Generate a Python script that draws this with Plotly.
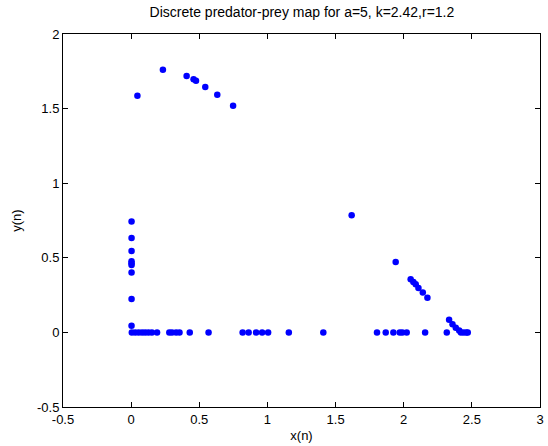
import plotly.graph_objects as go

# Upper arc
x_top = [0.046, 0.233, 0.407, 0.458, 0.476, 0.544, 0.632, 0.748]
y_top = [1.586, 1.760, 1.718, 1.696, 1.687, 1.644, 1.593, 1.519]

# Column near x = 0
x_col = [0.003, 0.003, 0.003, 0.003, 0.003, 0.003, 0.003, 0.003, 0.003]
y_col = [0.743, 0.633, 0.546, 0.477, 0.463, 0.452, 0.401, 0.224, 0.045]

# Row at y = 0
x_row = [0.005, 0.03, 0.055, 0.08, 0.103, 0.127, 0.152, 0.19, 0.28, 0.30, 0.33,
         0.355, 0.43, 0.568, 0.818, 0.862, 0.917, 0.961, 1.005, 1.157, 1.41,
         1.804, 1.868, 1.924, 1.971, 1.99, 2.022, 2.157, 2.316, 2.42, 2.44,
         2.46, 2.47]
y_row = [0.0] * len(x_row)

# Diagonal branch on the right
x_diag = [1.618, 1.941, 2.051, 2.071, 2.088, 2.108, 2.140, 2.174, 2.333, 2.358, 2.382, 2.407]
y_diag = [0.785, 0.472, 0.356, 0.338, 0.322, 0.297, 0.268, 0.233, 0.085, 0.054, 0.031, 0.012]

x_all = x_top + x_col + x_row + x_diag
y_all = y_top + y_col + y_row + y_diag

x_ticks = [-0.5, 0, 0.5, 1, 1.5, 2, 2.5, 3]
x_tick_labels = ["-0.5", "0", "0.5", "1", "1.5", "2", "2.5", "3"]
y_ticks = [-0.5, 0, 0.5, 1, 1.5, 2]
y_tick_labels = ["-0.5", "0", "0.5", "1", "1.5", "2"]

font_family = "Liberation Sans, Arial, sans-serif"

fig = go.Figure()
fig.add_trace(go.Scatter(
    x=x_all, y=y_all, mode="markers",
    marker=dict(color="rgb(0,0,255)", size=6.5, line=dict(width=0)),
    showlegend=False,
))

axis_common = dict(
    showgrid=False, zeroline=False, showline=True, linecolor="black", linewidth=1,
    mirror="ticks", ticks="inside", ticklen=5, tickcolor="black", tickwidth=1,
    tickfont=dict(family=font_family, size=13, color="black"),
    automargin=False,
)

fig.update_layout(
    width=548, height=446,
    margin=dict(l=63, r=8, t=34, b=39),
    paper_bgcolor="white", plot_bgcolor="white",
    title=dict(text="Discrete predator-prey map for a=5, k=2.42,r=1.2",
               x=0.551, xanchor="center", y=0.972, yanchor="middle",
               font=dict(family=font_family, size=14, color="black"),
               automargin=False),
    xaxis=dict(range=[-0.5, 3], tickvals=x_ticks, ticktext=x_tick_labels,
               title=dict(text="x(n)", standoff=5,
                          font=dict(family=font_family, size=13, color="black")),
               **axis_common),
    yaxis=dict(range=[-0.5, 2], tickvals=y_ticks, ticktext=y_tick_labels,
               title=dict(text="y(n)", standoff=12,
                          font=dict(family=font_family, size=13, color="black")),
               **axis_common),
)

fig.write_html("out.html")
